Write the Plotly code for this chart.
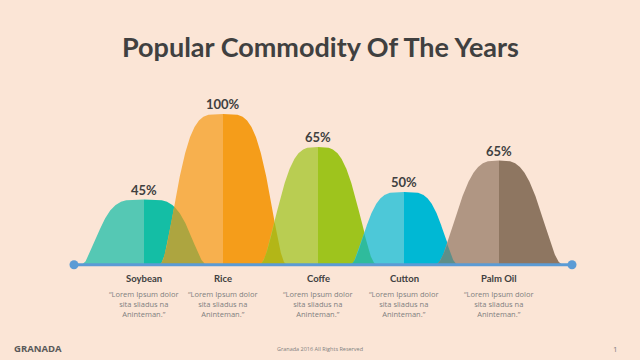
import numpy as np
import plotly.graph_objects as go

# ---- data ----
categories = ["Soybean", "Rice", "Coffe", "Cutton", "Palm Oil"]
percent_labels = [45, 100, 65, 50, 65]          # printed values
peak_heights = [43, 100, 78, 48, 69]            # drawn bell heights (rice = 100)
descriptions = ["“Lorem Ipsum dolor<br>sita sliadus na<br>Aninteman.”"] * 5

# ---- layout / style ----
W, H = 640, 360
BG = "#FBE5D6"
BASE_PX = 264.0
PX_PER_UNIT = 1.5
centers = [144, 223, 318, 404, 499]
half_widths = [62, 63, 58, 53, 63]
shape_power = [2.2, 2.15, 1.8, 2.1, 1.7]
light = ["#55C8B4", "#F7B04E", "#B9CD52", "#4DC8D8", "#B09683"]
dark = ["#14BEA5", "#F59D1A", "#9EC41D", "#00B8D4", "#8E7661"]
overlap_colors = ["#ADA540", "#B3B617", "#2FBB9C", "#5E8F89"]


def py(px):
    return (BASE_PX - px) / PX_PER_UNIT


def bell_y(x, i):
    xc, w, h = centers[i], half_widths[i], peak_heights[i]
    t = np.clip(np.abs((x - xc) / w), 0, 1)
    g = 1 - t ** shape_power[i]
    return h * (3 * g ** 2 - 2 * g ** 3)


fig = go.Figure()

for i in range(len(categories)):
    xc, w = centers[i], half_widths[i]
    for side, col in ((-1, light[i]), (1, dark[i])):
        xs = np.linspace(xc, xc + side * w, 200)
        ys = bell_y(xs, i)
        fig.add_trace(go.Scatter(x=np.concatenate([xs, [xc + side * w, xc]]),
                                 y=np.concatenate([ys, [0, 0]]),
                                 fill="toself", fillcolor=col,
                                 mode="lines", line=dict(width=0, color=col),
                                 hoverinfo="skip", showlegend=False))

for i in range(len(categories) - 1):
    a0 = centers[i + 1] - half_widths[i + 1]
    a1 = centers[i] + half_widths[i]
    if a1 <= a0:
        continue
    xs = np.linspace(a0, a1, 150)
    ys = np.minimum(bell_y(xs, i), bell_y(xs, i + 1))
    fig.add_trace(go.Scatter(x=np.concatenate([xs, [a1, a0]]),
                             y=np.concatenate([ys, [0, 0]]),
                             fill="toself", fillcolor=overlap_colors[i], mode="lines",
                             line=dict(width=0, color=overlap_colors[i]),
                             hoverinfo="skip", showlegend=False))

# baseline with end dots
fig.add_trace(go.Scatter(x=[74, 572], y=[-0.5, -0.5], mode="lines+markers",
                         line=dict(color="#5B9BD5", width=3),
                         marker=dict(size=9, color="#5B9BD5"),
                         hoverinfo="skip", showlegend=False))

annotations = []
for i, cat in enumerate(categories):
    annotations.append(dict(x=centers[i], y=peak_heights[i] + 10 / PX_PER_UNIT,
                            text=f"<b>{percent_labels[i]}%</b>", showarrow=False,
                            xanchor="center", yanchor="middle",
                            font=dict(family="Lato", size=13, color="#404040")))
    annotations.append(dict(x=centers[i], y=py(278), text=f"<b>{cat}</b>", showarrow=False,
                            xanchor="center", yanchor="middle",
                            font=dict(family="Lato", size=9.5, color="#404040")))
    annotations.append(dict(x=centers[i], y=py(304), text=descriptions[i], showarrow=False,
                            xanchor="center", yanchor="middle",
                            font=dict(family="Open Sans", size=7.5, color="#7F7F7F")))

annotations += [
    dict(x=320, y=py(46), text="<b>Popular Commodity Of The Years</b>", showarrow=False,
         xanchor="center", yanchor="middle",
         font=dict(family="Lato", size=27, color="#404040")),
    dict(x=12, y=py(348), text="<b>GRANADA</b>", showarrow=False,
         xanchor="left", yanchor="middle",
         font=dict(family="Open Sans", size=9.5, color="#595959")),
    dict(x=320, y=py(349), text="Granada 2016 All Rights Reserved", showarrow=False,
         xanchor="center", yanchor="middle",
         font=dict(family="Open Sans", size=5.5, color="#7F7F7F")),
    dict(x=615, y=py(348), text="1", showarrow=False,
         xanchor="center", yanchor="middle",
         font=dict(family="Open Sans", size=8, color="#7F7F7F")),
]

fig.update_layout(
    width=W, height=H, margin=dict(l=0, r=0, t=0, b=0),
    paper_bgcolor=BG, plot_bgcolor=BG,
    xaxis=dict(range=[0, W], visible=False, fixedrange=True),
    yaxis=dict(range=[py(H), py(0)], visible=False, fixedrange=True),
    annotations=annotations, showlegend=False,
)

fig.write_html("out.html", config={"displayModeBar": False},
               post_script="document.body.style.margin='0px';document.body.style.padding='0px';"
                           "document.body.style.background='" + BG + "';")
